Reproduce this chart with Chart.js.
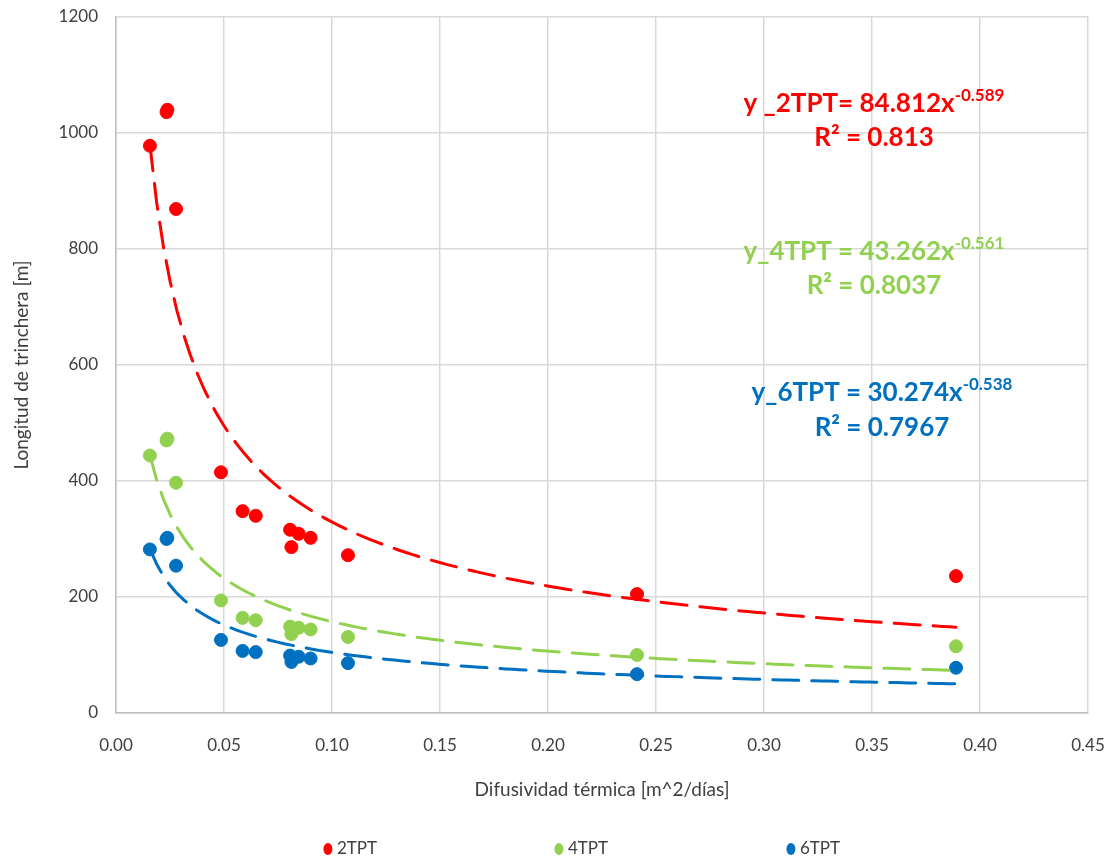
<!DOCTYPE html>
<html>
<head>
<meta charset="utf-8">
<script src="https://cdn.jsdelivr.net/npm/chart.js@4.4.0/dist/chart.umd.min.js"></script>
<style>
  html, body { margin: 0; padding: 0; background: #fff; }
  #wrap { width: 1115px; height: 861px; position: relative; }
</style>
</head>
<body>
<div id="wrap"><canvas id="chart" width="1115" height="861"></canvas></div>
<script>
// scatter data (x: difusividad, y: longitud)
const seriesNames = ['2TPT', '4TPT', '6TPT'];
const seriesColors = ['#FF0000', '#92D050', '#0070C0'];

const xValues = [0.0157, 0.0234, 0.0238, 0.0278, 0.0486, 0.0586, 0.0647, 0.0806, 0.0812, 0.0846, 0.0901, 0.1074, 0.2412, 0.3889];
const y2TPT = [978, 1036, 1040, 869, 415, 348, 340, 316, 286, 309, 302, 272, 205, 236];
const y4TPT = [444, 470, 473, 397, 194, 164, 160, 149, 136, 147, 144, 131, 100, 115];
const y6TPT = [282, 300, 302, 254, 126, 107, 105, 99, 88, 97, 94, 86, 67, 78];

// power trendlines y = a * x^b, as printed on the chart
const trendA = [84.812, 43.262, 30.274];
const trendB = [-0.589, -0.561, -0.538];
const trendLabels = ['y _2TPT= 84.812x', 'y_4TPT = 43.262x', 'y_6TPT = 30.274x'];
const trendExp = ['-0.589', '-0.561', '-0.538'];
const trendR2 = ['R² = 0.813', 'R² = 0.8037', 'R² = 0.7967'];

const xTicks = [0, 0.05, 0.1, 0.15, 0.2, 0.25, 0.3, 0.35, 0.4, 0.45];

const FONT = 'Lato, Calibri, Carlito, sans-serif';

function toPoints(ys) {
  return xValues.map((x, i) => ({ x: x, y: ys[i] }));
}

function trendPoints(k) {
  const x0 = Math.min(...xValues), x1 = Math.max(...xValues);
  const pts = [];
  for (let i = 0; i <= 120; i++) {
    const x = x0 + (x1 - x0) * i / 120;
    pts.push({ x: x, y: trendA[k] * Math.pow(x, trendB[k]) });
  }
  return pts;
}

const allY = [y2TPT, y4TPT, y6TPT];
const datasets = [];
allY.forEach((ys, k) => {
  datasets.push({
    label: seriesNames[k],
    data: toPoints(ys),
    showLine: false,
    pointRadius: 6.5,
    pointHoverRadius: 6.5,
    pointBackgroundColor: seriesColors[k],
    pointBorderColor: seriesColors[k],
    borderColor: seriesColors[k],
    backgroundColor: seriesColors[k],
    order: 2
  });
});
allY.forEach((ys, k) => {
  datasets.push({
    label: 'trend ' + seriesNames[k],
    data: trendPoints(k),
    showLine: true,
    pointRadius: 0,
    borderColor: seriesColors[k],
    borderWidth: 3,
    borderDash: [26, 13],
    borderCapStyle: 'round',
    tension: 0,
    fill: false,
    order: 1
  });
});

// equation boxes + bottom legend
const extrasPlugin = {
  id: 'extras',
  afterDraw(chart) {
    const ctx = chart.ctx;
    const eqPos = [[874, 104, 138], [874, 252, 286], [882, 393, 428]];
    ctx.save();
    ctx.textBaseline = 'middle';
    eqPos.forEach((p, k) => {
      ctx.fillStyle = seriesColors[k];
      ctx.font = 'bold 26px ' + FONT;
      const w1 = ctx.measureText(trendLabels[k]).width;
      ctx.font = 'bold 17px ' + FONT;
      const w2 = ctx.measureText(trendExp[k]).width;
      const start = p[0] - (w1 + w2) / 2;
      ctx.textAlign = 'left';
      ctx.font = 'bold 26px ' + FONT;
      ctx.fillText(trendLabels[k], start, p[1]);
      ctx.font = 'bold 17px ' + FONT;
      ctx.fillText(trendExp[k], start + w1, p[1] - 8);
      ctx.font = 'bold 26px ' + FONT;
      ctx.textAlign = 'center';
      ctx.fillText(trendR2[k], p[0], p[2]);
    });

    // legend
    const ly = 849;
    const centers = [350, 581, 813];
    ctx.font = '17px ' + FONT;
    ctx.textAlign = 'left';
    seriesNames.forEach((name, k) => {
      const tw = ctx.measureText(name).width;
      const x = centers[k] - (tw + 14) / 2;
      ctx.fillStyle = seriesColors[k];
      ctx.beginPath();
      ctx.ellipse(x + 5, ly, 4.5, 6, 0, 0, Math.PI * 2);
      ctx.fill();
      ctx.fillStyle = '#404040';
      ctx.fillText(name, x + 14, ly);
    });
    ctx.restore();
  }
};

new Chart(document.getElementById('chart'), {
  type: 'scatter',
  data: { datasets: datasets },
  plugins: [extrasPlugin],
  options: {
    responsive: false,
    animation: false,
    layout: { padding: { top: 17, right: 27, left: 0, bottom: 0 } },
    plugins: {
      legend: { display: false },
      tooltip: { enabled: false }
    },
    scales: {
      x: {
        type: 'linear',
        min: 0,
        max: 0.45,
        afterBuildTicks: (axis) => { axis.ticks = xTicks.map(v => ({ value: v })); },
        afterFit: (axis) => {
          axis.height = 148;
          axis.paddingLeft = 0;
          axis.paddingRight = 0;
        },
        grid: { color: '#d9d9d9', lineWidth: 1.5, drawTicks: false },
        border: { color: '#bfbfbf', width: 1.5 },
        ticks: {
          padding: 22,
          color: '#404040',
          font: { family: FONT, size: 17 },
          callback: (v) => v.toFixed(2)
        },
        title: {
          display: true,
          text: 'Difusividad térmica [m^2/días]',
          color: '#404040',
          font: { family: FONT, size: 19 },
          padding: { top: 0, bottom: 60 }
        }
      },
      y: {
        min: 0,
        max: 1200,
        afterFit: (axis) => {
          axis.width = 116;
          axis.paddingTop = 0;
          axis.paddingBottom = 0;
        },
        grid: { color: '#d9d9d9', lineWidth: 1.5, drawTicks: false },
        border: { color: '#bfbfbf', width: 1.5 },
        ticks: {
          stepSize: 200,
          padding: 18,
          color: '#404040',
          font: { family: FONT, size: 17 },
          callback: (v) => String(v)
        },
        title: {
          display: true,
          text: 'Longitud de trinchera [m]',
          color: '#404040',
          font: { family: FONT, size: 19 },
          padding: { top: 10, bottom: 0 }
        }
      }
    }
  }
});
</script>
</body>
</html>
